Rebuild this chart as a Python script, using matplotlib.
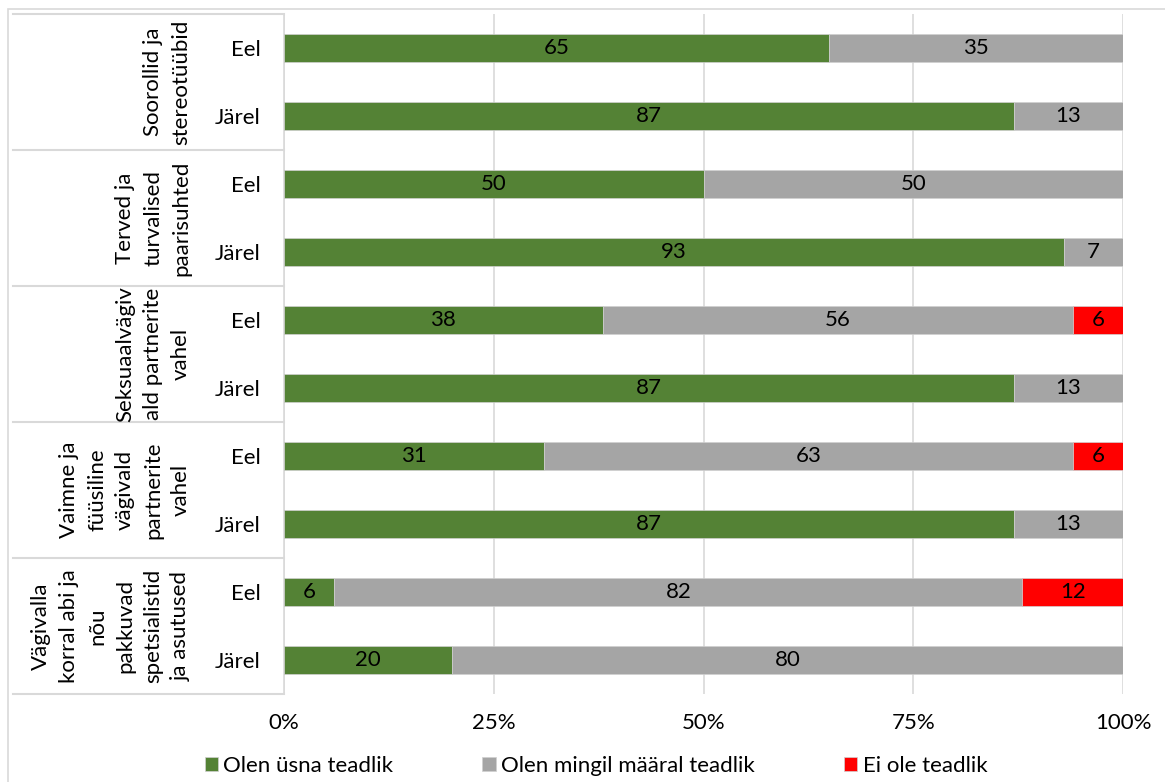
import matplotlib.pyplot as plt
import matplotlib.transforms as mtransforms
from matplotlib.patches import Rectangle
from matplotlib.lines import Line2D
import numpy as np

plt.rcParams["font.family"] = ["Lato", "DejaVu Sans"]

groups = [
    "Soorollid ja\nstereotüübid",
    "Terved ja\nturvalised\npaarisuhted",
    "Seksuaalvägiv\nald partnerite\nvahel",
    "Vaimne ja\nfüüsiline\nvägivald\npartnerite\nvahel",
    "Vägivalla\nkorral abi ja\nnõu\npakkuvad\nspetsialistid\nja asutused",
]
times = ["Eel", "Järel"]
series = ["Olen üsna teadlik", "Olen mingil määral teadlik", "Ei ole teadlik"]
teadlik = [65, 87, 50, 93, 38, 87, 31, 87, 6, 20]
mingil = [35, 13, 50, 7, 56, 13, 63, 13, 82, 80]
ei_ole = [0, 0, 0, 0, 6, 0, 6, 0, 12, 0]
colors = ["#548235", "#A5A5A5", "#FF0000"]

FS = 16
W, H = 1165, 782
fig = plt.figure(figsize=(W / 100, H / 100), dpi=100)
ax = fig.add_axes([284 / W, 1 - 694 / H, (1123 - 284) / W, (694 - 14) / H])

n = len(teadlik)
y = np.arange(n)
left = np.zeros(n)
for vals, color, name in zip([teadlik, mingil, ei_ole], colors, series):
    vals = np.array(vals, dtype=float)
    ax.barh(y, vals, left=left, height=0.41, color=color, label=name,
            edgecolor="#D0D0D0", linewidth=0.5, zorder=3)
    for yi, (l, v) in enumerate(zip(left, vals)):
        if v > 0:
            ax.text(l + v / 2, yi, f"{v:.0f}", ha="center", va="center",
                    fontsize=FS, color="black", zorder=4)
    left += vals

ax.set_xlim(0, 100)
ax.set_ylim(n - 0.5, -0.5)
ax.set_xticks([0, 25, 50, 75, 100])
ax.set_xticklabels(["0%", "25%", "50%", "75%", "100%"], fontsize=FS)
ax.set_yticks(y)
ax.set_yticklabels([times[i % 2] for i in range(n)], fontsize=FS)
ax.tick_params(axis="y", length=0, pad=17)
ax.tick_params(axis="x", length=0, pad=14)
ax.grid(axis="x", color="#D9D9D9", linewidth=1.2, zorder=0)
for s in ["top", "right", "bottom"]:
    ax.spines[s].set_visible(False)
ax.spines["left"].set_color("#D9D9D9")
ax.spines["left"].set_linewidth(1.2)

# category table lines and group labels
trans = mtransforms.blended_transform_factory(fig.transFigure, ax.transData)
x0 = 13 / W
x1 = 284 / W
for b in [-0.5, 1.5, 3.5, 5.5, 7.5, 9.5]:
    fig.add_artist(Line2D([x0, x1], [b, b], transform=trans,
                          color="#D9D9D9", linewidth=1.5))
for gi, label in enumerate(groups):
    fig.text(191 / W, 2 * gi + 0.5, label, transform=trans, rotation=90,
             ha="right", va="center", multialignment="center",
             fontsize=FS, linespacing=1.5)

# chart border
fig.add_artist(Rectangle((8 / W, -0.05), 1.1, 1 - 9 / H + 0.05,
                         transform=fig.transFigure, fill=False,
                         edgecolor="#D9D9D9", linewidth=1.2))

handles, labels = ax.get_legend_handles_labels()
fig.legend(handles, labels, loc="center", bbox_to_anchor=(596 / W, 1 - 766 / H),
           ncol=3, frameon=False, fontsize=FS, handlelength=0.6,
           handleheight=0.6, handletextpad=0.25, columnspacing=4.0)

fig.savefig("out.png", dpi=100)
